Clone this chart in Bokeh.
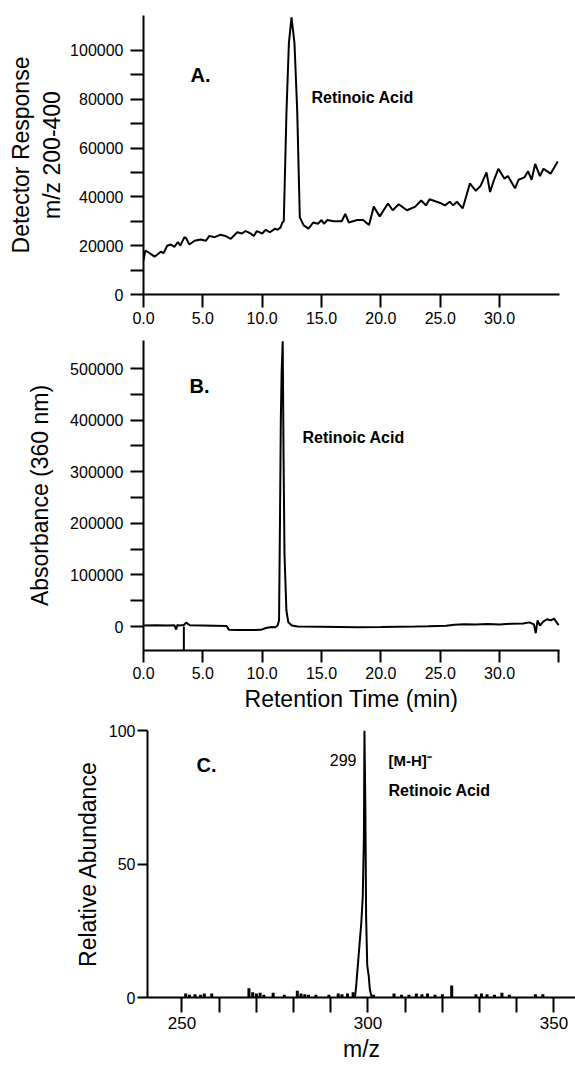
from bokeh.plotting import figure
from bokeh.models import Range1d, FixedTicker, PrintfTickFormatter, Label
from bokeh.embed import file_html
from bokeh.resources import INLINE

FONT = "Liberation Sans"

# ---------------- Panel A: LC-MS total ion (m/z 200-400) ----------------
a_time = [0.0, 0.15, 0.5, 0.93, 1.2, 1.45, 1.7, 2.0, 2.3, 2.6, 2.9, 3.1, 3.45, 3.6, 3.86,
          4.3, 4.8, 5.25, 5.55, 6.0, 6.5, 6.9, 7.35, 7.9, 8.3, 8.6, 8.95, 9.3, 9.55, 10.0,
          10.3, 10.65, 11.1, 11.3, 11.55, 11.7, 11.82, 12.05, 12.25, 12.47, 12.72, 12.95,
          13.17, 13.5, 13.9, 14.3, 14.7, 15.0, 15.2, 15.5, 16.0, 16.7, 17.0, 17.3,
          18.0, 18.5, 19.0, 19.4, 19.9, 20.6, 21.0, 21.5, 22.2, 22.9, 23.4, 23.8, 24.1,
          25.0, 25.4, 25.8, 26.1, 26.4, 26.9, 27.5, 28.0, 28.4, 28.9, 29.2, 29.5, 29.9,
          30.4, 30.7, 31.3, 31.6, 32.1, 32.4, 32.7, 33.0, 33.4, 33.7, 34.3, 34.9]
a_resp = [14000, 18000, 17000, 15500, 16500, 17500, 17000, 20000, 20500, 19500, 21500, 20000,
          23500, 23000, 20500, 22000, 22500, 22000, 24000, 23500, 24500, 24000, 22800, 25500,
          25000, 26000, 25200, 24000, 26000, 25000, 26500, 25500, 27000, 26500, 27500, 29500,
          30000, 75400, 103000, 113500, 103000, 75400, 31600, 28300, 27000, 29500, 29000,
          30500, 29000, 30500, 30000, 30000, 33000, 29500, 30500, 30500, 28500, 36000,
          32000, 37300, 34500, 37000, 34500, 36000, 38500, 36500, 39000, 37500, 36500, 38000,
          36500, 38000, 35300, 45500, 42500, 44500, 50000, 42000, 46500, 51500, 47500, 48500,
          43500, 47000, 48000, 50500, 47000, 53500, 48500, 51500, 49500, 54500]
a_xticks = [0, 5, 10, 15, 20, 25, 30]
a_yticks = [0, 20000, 40000, 60000, 80000, 100000]
a_yminor = [10000, 30000, 50000, 70000, 90000]

# ---------------- Panel B: UV absorbance 360 nm ----------------
b_time = [0.0, 1.0, 2.0, 2.6, 2.75, 2.85, 3.0, 3.4, 3.6, 3.9, 5.0, 6.0, 7.0, 7.2, 8.0, 9.0,
          9.9, 10.3, 10.8, 11.1, 11.3, 11.42, 11.5, 11.57, 11.64, 11.73, 11.8, 11.88, 12.04,
          12.2, 12.5, 13.0, 15.0, 18.0, 20.0, 22.9, 24.0, 25.5, 26.2, 27.0, 28.0, 29.0, 30.0,
          31.0, 32.0, 32.5, 32.9, 33.05, 33.2, 33.4, 33.7, 34.0, 34.3, 34.6, 34.9, 35.0]
b_abs = [2000, 2500, 2000, 2500, -6000, 3000, 2000, 3000, 7500, 2500, 2000, 1500, 1000, -6500,
         -7000, -7000, -6500, -3000, -1000, -1500, 2000, 12000, 205000, 400000, 495000, 553000,
         330000, 140000, 31000, 8400, 2000, 0, -500, -1500, -1000, 0, 500, 1500, 3500, 4500,
         4000, 5000, 4000, 5500, 6000, 8000, 4000, -13000, 12000, 2000, 10000, 14000, 12000,
         15000, 5000, 3000]
b_inject = [3.4]
b_xticks = [0, 5, 10, 15, 20, 25, 30, 35]
b_yticks = [0, 100000, 200000, 300000, 400000, 500000]
b_yminor = [50000, 150000, 250000, 350000, 450000]
b_ylow, b_yhigh = -46500, 554300

# ---------------- Panel C: mass spectrum ----------------
c_peak_mz = [296.5, 296.8, 297.5, 298.2, 298.6, 298.9, 299.05, 299.3, 299.5, 299.8, 300.2, 300.5, 301.0]
c_peak_ab = [0, 4, 16, 28, 38, 60, 100, 70, 30, 12, 8, 3, 0]
c_noise_mz = [251, 252, 253.5, 255, 256, 258, 268, 269, 270, 271, 272, 274.5, 277.5, 281, 282,
              283, 284, 286, 289.5, 292, 293, 294.5, 296, 301.5, 307, 309, 311, 313, 314.5,
              316, 318, 320, 322.5, 329, 330.5, 332, 334, 336, 338, 345, 347]
c_noise_ab = [1.5, 1.0, 1.2, 1.0, 1.5, 1.5, 3.5, 2.0, 1.5, 1.8, 1.0, 1.8, 1.0, 2.5, 1.5, 1.2,
              1.0, 1.0, 1.0, 1.5, 1.2, 1.5, 2.0, 1.0, 1.5, 1.0, 1.0, 1.5, 1.2, 1.5, 1.0, 1.2,
              4.5, 1.2, 1.5, 1.2, 1.0, 1.8, 1.0, 1.2, 1.2]
c_xticks = [250, 300, 350]
c_xminor = [260, 270, 280, 290, 310, 320, 330, 340]
c_yticks = [0, 50, 100]


def style(p, tick_out_x, tick_out_y):
    p.outline_line_color = None
    p.xgrid.grid_line_color = None
    p.ygrid.grid_line_color = None
    p.background_fill_color = "white"
    p.border_fill_color = "white"
    for ax in p.axis:
        ax.axis_line_width = 2
        ax.axis_line_color = "black"
        ax.major_tick_line_width = 2
        ax.minor_tick_line_width = 2
        ax.major_tick_line_color = "black"
        ax.minor_tick_line_color = "black"
        ax.major_tick_in = 0
        ax.minor_tick_in = 0
        ax.major_label_text_font = FONT
        ax.major_label_text_font_size = "16px"
        ax.major_label_text_color = "black"
        ax.axis_label_text_font = FONT
        ax.axis_label_text_font_style = "normal"
        ax.axis_label_text_font_size = "23px"
        ax.axis_label_text_color = "black"
    for ax in p.xaxis:
        ax.major_tick_out = tick_out_x
        ax.minor_tick_out = tick_out_x
    for ax in p.yaxis:
        ax.major_tick_out = tick_out_y
        ax.minor_tick_out = tick_out_y


def add_text(p, x, y, txt, size, bold=True, align="left"):
    p.add_layout(Label(x=x, y=y, text=txt, text_font=FONT, text_font_size=size,
                       text_font_style="bold" if bold else "normal", text_color="black",
                       text_align=align, text_baseline="alphabetic"))


# ---- Figure A ----
pa = figure(frame_width=416, frame_height=279, output_backend="svg", toolbar_location=None,
            x_range=Range1d(0, 35.05), y_range=Range1d(0, 114300),
            min_border_left=143, min_border_right=16, min_border_top=15, min_border_bottom=39)
pa.line(a_time, a_resp, line_color="black", line_width=2)
style(pa, 13, 13)
pa.xaxis.ticker = FixedTicker(ticks=a_xticks)
pa.xaxis.formatter = PrintfTickFormatter(format="%.1f")
pa.xaxis.major_label_standoff = 4
pa.yaxis.ticker = FixedTicker(ticks=a_yticks, minor_ticks=a_yminor)
pa.yaxis.formatter = PrintfTickFormatter(format="%d")
pa.yaxis.major_label_standoff = 7
pa.yaxis.axis_label = "Detector Response\nm/z 200-400"
pa.yaxis.axis_label_standoff = 2
add_text(pa, 3.96, 89750, "A.", "20px")
add_text(pa, 14.16, 80700, "Retinoic Acid", "16px")

# ---- Figure B ----
pb = figure(frame_width=416, frame_height=310, output_backend="svg", toolbar_location=None,
            x_range=Range1d(0, 35.05), y_range=Range1d(b_ylow, b_yhigh),
            min_border_left=143, min_border_right=16, min_border_top=7, min_border_bottom=68)
pb.line(b_time, b_abs, line_color="black", line_width=2)
pb.segment(x0=b_inject, y0=[0] * len(b_inject), x1=b_inject, y1=[b_ylow] * len(b_inject),
           line_color="black", line_width=2)
style(pb, 12, 13)
pb.xaxis.ticker = FixedTicker(ticks=b_xticks)
pb.xaxis.formatter = PrintfTickFormatter(format="%.1f")
pb.xaxis.major_label_overrides = {35: ""}
pb.xaxis.major_label_standoff = 4
pb.xaxis.axis_label = "Retention Time (min)"
pb.xaxis.axis_label_standoff = 4
pb.yaxis.ticker = FixedTicker(ticks=b_yticks, minor_ticks=b_yminor)
pb.yaxis.formatter = PrintfTickFormatter(format="%d")
pb.yaxis.major_label_standoff = 7
pb.yaxis.axis_label = "Absorbance (360 nm)"
pb.yaxis.axis_label_standoff = 14
add_text(pb, 3.88, 467000, "B.", "20px")
add_text(pb, 13.4, 366000, "Retinoic Acid", "16px")

# ---- Figure C ----
pc = figure(frame_width=428, frame_height=267, output_backend="svg", toolbar_location=None,
            x_range=Range1d(240.73, 355.78), y_range=Range1d(0, 100),
            min_border_left=147, min_border_right=0, min_border_top=12, min_border_bottom=70)
pc.segment(x0=c_noise_mz, y0=[0] * len(c_noise_mz), x1=c_noise_mz, y1=c_noise_ab,
           line_color="black", line_width=3)
pc.line(c_peak_mz, c_peak_ab, line_color="black", line_width=2)
style(pc, 15, 10)
pc.xaxis.ticker = FixedTicker(ticks=c_xticks, minor_ticks=c_xminor)
pc.xaxis.major_label_text_font_size = "17px"
pc.xaxis.major_label_standoff = 4
pc.xaxis.axis_label = "m/z"
pc.xaxis.axis_label_standoff = 4
pc.yaxis.ticker = FixedTicker(ticks=c_yticks)
pc.yaxis.major_label_standoff = 2
pc.yaxis.axis_label = "Relative Abundance"
pc.yaxis.axis_label_standoff = 5
add_text(pc, 253.9, 86.9, "C.", "20px")
add_text(pc, 296.9, 88.8, "299", "16px", bold=False, align="right")
add_text(pc, 305.5, 88.8, "[M-H]\u207b", "15px")
add_text(pc, 305.5, 77.5, "Retinoic Acid", "16px")

open("out.html", "w").write(file_html([pa, pb, pc], INLINE))
